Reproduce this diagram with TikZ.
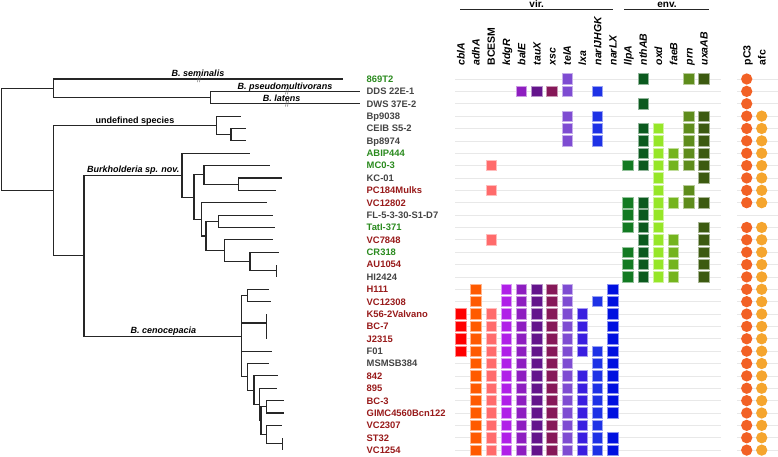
\documentclass[tikz,border=0pt]{standalone}
\usepackage{fontspec}
\setmainfont{Liberation Sans}
\usetikzlibrary{positioning}

\definecolor{tipgreen}{HTML}{2A8A1E}
\definecolor{tipred}{HTML}{981A1A}
\definecolor{tipgray}{HTML}{444444}
\definecolor{g0}{HTML}{FF0000}
\definecolor{g1}{HTML}{FF5A00}
\definecolor{g2}{HTML}{FF6B6B}
\definecolor{g3}{HTML}{B020E8}
\definecolor{g4}{HTML}{8E1EC0}
\definecolor{g5}{HTML}{64148C}
\definecolor{g6}{HTML}{861858}
\definecolor{g7}{HTML}{7E4CD2}
\definecolor{g8}{HTML}{3A1EE0}
\definecolor{g9}{HTML}{1E32E6}
\definecolor{g10}{HTML}{0010E0}
\definecolor{g11}{HTML}{127A22}
\definecolor{g12}{HTML}{0B5A1E}
\definecolor{g13}{HTML}{96E628}
\definecolor{g14}{HTML}{74B41E}
\definecolor{g15}{HTML}{5E8C1C}
\definecolor{g16}{HTML}{3C5A10}
\definecolor{gpc}{HTML}{F26125}
\definecolor{gafc}{HTML}{F5A52E}

\begin{document}
\begin{tikzpicture}[
x=1pt, y=-1pt,
branch/.style={draw=black!85, line width=1.1pt},
cut/.style={draw=black!55, line width=0.5pt},
strain/.style={inner sep=0pt, anchor=base west, font=\fontsize{9.4}{11}\selectfont\bfseries},
clade/.style={inner sep=0pt, anchor=base, font=\fontsize{9}{11}\selectfont\bfseries\itshape},
gene/.style={inner sep=0pt, anchor=base west, rotate=90, font=\fontsize{10.5}{12}\selectfont\bfseries},
group/.style={inner sep=0pt, anchor=base, font=\fontsize{10}{12}\selectfont\bfseries},
bar/.style={draw=black!85, line width=1.1pt},
cell/.style={rectangle, minimum size=10.4pt, inner sep=0pt, line width=0.8pt},
dot/.style={circle, minimum size=11.3pt, inner sep=0pt},
rowline/.style={draw=black!9, line width=0.7pt}
]
\useasboundingbox (0,0) rectangle (778,456);

% row guide lines
\foreach \i in {1,...,31} {
  \pgfmathsetmacro\y{79+(\i-1)*12.37}
  \draw[rowline] (455,\y) -- (721,\y);
  \draw[rowline] (737,\y) -- (778,\y);
}

% strain labels
\foreach \nm/\cl [count=\i] in {869T2/tipgreen, DDS 22E-1/tipgray, DWS 37E-2/tipgray,
  Bp9038/tipgray, CEIB S5-2/tipgray, Bp8974/tipgray, ABIP444/tipgreen, MC0-3/tipgreen,
  KC-01/tipgray, PC184Mulks/tipred, VC12802/tipred, FL-5-3-30-S1-D7/tipgray,
  TatI-371/tipgreen, VC7848/tipred, CR318/tipgreen, AU1054/tipred, HI2424/tipgray,
  H111/tipred, VC12308/tipred, K56-2Valvano/tipred, BC-7/tipred, J2315/tipred,
  F01/tipgray, MSMSB384/tipgray, 842/tipred, 895/tipred, BC-3/tipred,
  GIMC4560Bcn122/tipred, VC2307/tipred, ST32/tipred, VC1254/tipred} {
  \pgfmathsetmacro\y{79+(\i-1)*12.37}
  \node[strain, text=\cl] (s\i) at (366.5,\y+3.4) {\nm};
}

% tree tips
\foreach \tx [count=\i] in {343.3, 360, 360, 240.7, 245.7, 245.7, 250, 270, 282.3, 276,
  266.7, 272.7, 275, 272.7, 279.3, 276.7, 276.7, 269.3, 271, 266.7, 266.7, 266.7,
  271.7, 269.3, 277.7, 276.7, 284.3, 284.3, 282.3, 282.3, 282.3} {
  \pgfmathsetmacro\y{79+(\i-1)*12.37}
  \coordinate (t\i) at (\tx,\y);
}

% inner nodes
\coordinate (root) at (1.7,139.4);
\coordinate (nA) at (53.3,88.3);
\coordinate (nC) at (210.7,97.6);
\coordinate (nB) at (53.3,190.5);
\coordinate (nD) at (216.7,125.4);
\coordinate (nF) at (231,134.7);
\coordinate (nE) at (84,255.7);
\coordinate (nG) at (182,175.2);
\coordinate (nGB) at (194,197.1);
\coordinate (nGC) at (204,174.9);
\coordinate (nGD) at (238.3,184.2);
\coordinate (nGE) at (201.7,219.3);
\coordinate (nGF) at (206,236);
\coordinate (nGG) at (218.3,221.3);
\coordinate (nGH) at (224.3,250.6);
\coordinate (nGI) at (250,261.5);
\coordinate (nGJ) at (276.7,270.7);
\coordinate (nK) at (241.7,336.2);
\coordinate (nL) at (247.3,295.5);
\coordinate (nM) at (266.7,323);
\coordinate (nN) at (247.3,376.9);
\coordinate (nO) at (254,390.2);
\coordinate (nP) at (259.3,404.5);
\coordinate (nQ) at (261,420.7);
\coordinate (nR) at (266.7,406.8);
\coordinate (nS) at (266.7,434.6);
\coordinate (nT) at (282.3,443.9);

% branches
\foreach \p/\ch in {root/nA, root/nB, nA/t1, nA/nC, nC/t2, nC/t3,
  nB/nD, nB/nE, nD/t4, nD/nF, nF/t5, nF/t6,
  nE/nG, nE/nK, nG/t7, nG/nGB, nGB/nGC, nGB/nGE, nGC/t8, nGC/nGD, nGD/t9, nGD/t10,
  nGE/t11, nGE/nGF, nGF/nGG, nGF/nGH, nGG/t12, nGG/t13, nGH/t14, nGH/nGI,
  nGI/t15, nGI/nGJ, nGJ/t16, nGJ/t17,
  nK/nL, nK/nM, nK/t23, nK/nN, nL/t18, nL/t19, nM/t20, nM/t21, nM/t22,
  nN/t24, nN/nO, nO/t25, nO/nP, nP/t26, nP/nQ, nQ/nR, nQ/nS,
  nR/t27, nR/t28, nS/t29, nS/nT, nT/t30, nT/t31}
  \draw[branch] (\p) |- (\ch);

% clade labels and cut marks
\node[clade] (lsem) at (198,76.8) {B. seminalis};
\node[clade] (lpse) at (285,89.2) {B. pseudomultivorans};
\node[clade] (llat) at (281.7,101.5) {B. latens};
\node[clade, font=\fontsize{9}{11}\selectfont\bfseries] (lund) at (135,123) {undefined species};
\node[clade] (lnov) at (133.3,172.8) {Burkholderia sp. nov.};
\node[clade] (lcen) at (163.3,333.8) {B. cenocepacia};
\foreach \cx/\cy in {199/79, 287/91.4, 287/103.7}
  \draw[cut] (\cx-1.5,\cy+3) -- (\cx-0.5,\cy-3) (\cx+0.5,\cy+3) -- (\cx+1.5,\cy-3);

% column headers
\foreach \g [count=\k from 0] in {\itshape cblA, \itshape adhA, BCESM, \itshape kdgR,
  \itshape balE, \itshape tauX, \itshape xsc, \itshape telA, \itshape lxa,
  \itshape narIJHGK, \itshape narLX, \itshape llpA, \itshape nthAB, \itshape oxd,
  \itshape faeB, \itshape prn, \itshape uxaAB}
  \node[gene] (h\k) at (460.7+15.2*\k+3.8,65.5) {\g};
\node[gene] (hpc) at (746.7+3.8,65.5) {pC3};
\node[gene] (hafc) at (761.7+3.8,65.5) {afc};

\node[group] (vir) at (536.7,7.3) {vir.};
\node[group] (env) at (667,7.3) {env.};
\draw[bar] (460,9.3) -- (613.3,9.3);
\draw[bar] (624,9.3) -- (709.3,9.3);

% gene presence
\foreach \i/\cols in {1/{7,12,15,16}, 2/{4,5,6,7,9}, 3/{12}, 4/{7,9,15,16},
  5/{7,9,12,13,15,16}, 6/{7,9,12,13,15,16}, 7/{12,13,14,15,16},
  8/{2,11,12,13,14,15,16}, 9/{13,16}, 10/{2,13,15}, 11/{11,12,13,14,15,16},
  12/{11,12,13}, 13/{11,12,13,16}, 14/{2,12,13,14,16}, 15/{11,12,13,14,16},
  16/{11,12,13,14,16}, 17/{11,12,13,14,16}, 18/{1,3,4,5,6,7,10},
  19/{1,3,4,5,6,7,9,10}, 20/{0,1,2,3,4,5,6,7,8,10}, 21/{0,1,2,3,4,5,6,7,8,10},
  22/{0,1,2,3,4,5,6,7,8,10}, 23/{0,1,2,3,4,5,6,7,8,9,10}, 24/{1,2,3,4,5,6,7,9,10},
  25/{1,2,3,4,5,6,7,8,9,10}, 26/{1,2,3,4,5,6,7,8,9,10}, 27/{1,2,3,4,5,6,7,8,9,10},
  28/{1,2,3,4,5,6,7,8,9,10}, 29/{1,2,3,4,5,6,7,8,9}, 30/{1,2,3,4,5,6,7,8,9,10},
  31/{1,2,3,4,5,6,7,8,9,10}} {
  \pgfmathsetmacro\y{79+(\i-1)*12.37}
  \foreach \c in \cols
    \node[cell, fill=g\c, draw=g\c!45!white] (c-\i-\c) at (460.7+15.2*\c,\y) {};
}

% plasmid and afc cluster
\foreach \i in {1,...,11,13,14,...,31} {
  \pgfmathsetmacro\y{79+(\i-1)*12.37}
  \node[dot, fill=gpc] (pc-\i) at (746.7,\y) {};
}
\foreach \i in {4,...,11,13,14,...,31} {
  \pgfmathsetmacro\y{79+(\i-1)*12.37}
  \node[dot, fill=gafc] (af-\i) at (761.7,\y) {};
}

\end{tikzpicture}
\end{document}
